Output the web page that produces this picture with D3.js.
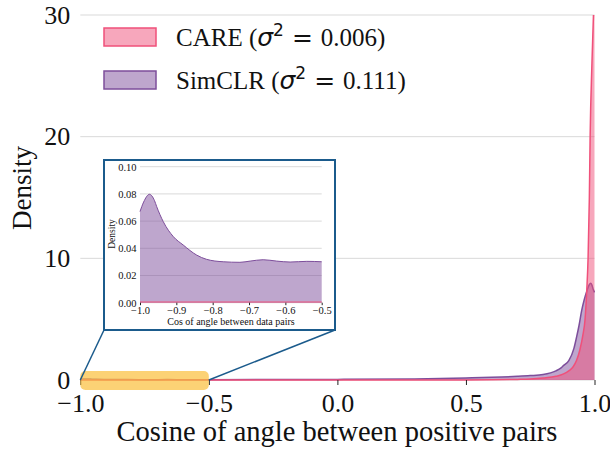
<!DOCTYPE html>
<html>
<head>
<meta charset="utf-8">
<script src="https://cdn.jsdelivr.net/npm/d3@7"></script>
<style>
  body { margin: 0; background: #fff; }
  text { font-family: "Liberation Serif", "Times New Roman", serif; fill: #111; }
</style>
</head>
<body>
<div id="chart"></div>
<script>
// cosine values and KDE densities
var simX = [-1.0, -0.99, -0.974, -0.96, -0.954, -0.936, -0.908, -0.881, -0.844, -0.817, -0.771, -0.725, -0.697, -0.661, -0.624, -0.587, -0.541, -0.5,
  0.0, 0.3, 0.5, 0.6, 0.7, 0.75, 0.8, 0.85, 0.87, 0.88, 0.9, 0.92, 0.93, 0.94, 0.95, 0.96, 0.97, 0.98, 0.985, 0.99, 0.995, 1.0];
var simY = [0.067, 0.074, 0.0797, 0.075, 0.0706, 0.0596, 0.0485, 0.0424, 0.035, 0.0319, 0.0301, 0.0297, 0.0306, 0.0316, 0.0306, 0.0299, 0.0304, 0.0301,
  0.05, 0.09, 0.17, 0.22, 0.3, 0.36, 0.45, 0.75, 1.0, 1.2, 1.6, 2.6, 3.5, 4.5, 5.7, 6.6, 7.3, 7.85, 7.95, 7.8, 7.45, 7.2];

var careX = [-1.0, -0.5, 0.0, 0.5, 0.6, 0.7, 0.75, 0.8, 0.85, 0.88, 0.9, 0.917, 0.93, 0.943, 0.955, 0.963, 0.97, 0.975, 0.98, 0.983, 0.99, 0.996, 1.0];
var careY = [0.0005, 0.0005, 0.002, 0.01, 0.02, 0.05, 0.08, 0.16, 0.3, 0.5, 0.75, 1.09, 1.6, 2.47, 3.7, 4.93, 7.4, 10, 15, 20, 26, 30, 32];

var xTicks = [-1.0, -0.5, 0.0, 0.5, 1.0];
var yTicks = [0, 10, 20, 30];
var insetXTicks = [-1.0, -0.9, -0.8, -0.7, -0.6, -0.5];
var insetYTicks = [0, 0.02, 0.04, 0.06, 0.08, 0.1];

var careColor = "#f0507a", simColor = "#7d4e9b";

var sim = simX.map((x, i) => [x, simY[i]]);
var care = careX.map((x, i) => [x, careY[i]]);

var width = 610, height = 451;
var svg = d3.select("#chart").append("svg")
  .attr("width", width).attr("height", height);

var x = d3.scaleLinear().domain([-1, 1]).range([80.3, 594.5]);
var y = d3.scaleLinear().domain([0, 30]).range([380, 15]);

svg.append("defs").append("clipPath").attr("id", "clip")
  .append("rect").attr("x", 78).attr("y", 15).attr("width", 520).attr("height", 375);

// grid
svg.append("g").selectAll("line").data(yTicks).enter().append("line")
  .attr("x1", x(-1)).attr("x2", x(1))
  .attr("y1", d => y(d)).attr("y2", d => y(d))
  .attr("stroke", "#d9d9d9").attr("stroke-width", 1);

var area = d3.area().curve(d3.curveMonotoneX).x(d => x(d[0])).y0(y(0)).y1(d => y(d[1]));
var line = d3.line().curve(d3.curveMonotoneX).x(d => x(d[0])).y(d => y(d[1]));

var plot = svg.append("g").attr("clip-path", "url(#clip)");
plot.append("path").datum(sim).attr("d", area).attr("fill", simColor).attr("fill-opacity", 0.5);
plot.append("path").datum(sim).attr("d", line).attr("fill", "none").attr("stroke", simColor).attr("stroke-width", 1.5);
plot.append("path").datum(care).attr("d", area).attr("fill", careColor).attr("fill-opacity", 0.5);
plot.append("path").datum(care).attr("d", line).attr("fill", "none").attr("stroke", careColor).attr("stroke-width", 1.5);

// axes
var xAxis = d3.axisBottom(x).tickValues(xTicks).tickFormat(d3.format(".1f")).tickSize(5).tickPadding(9);
var gx = svg.append("g").attr("transform", "translate(0,380)").call(xAxis);
gx.select(".domain").remove();
gx.selectAll("line").attr("stroke", "#222");
gx.selectAll("text").style("font-size", "26px").attr("fill", "#111");

var yAxis = d3.axisLeft(y).tickValues(yTicks).tickSize(0).tickPadding(10);
var gy = svg.append("g").attr("transform", `translate(${x(-1)},0)`).call(yAxis);
gy.select(".domain").remove();
gy.selectAll("text").style("font-size", "26px").attr("fill", "#111");

svg.append("text").attr("x", 337).attr("y", 441).attr("text-anchor", "middle")
  .style("font-size", "28.5px").text("Cosine of angle between positive pairs");
svg.append("text").attr("transform", "translate(31,188) rotate(-90)").attr("text-anchor", "middle")
  .style("font-size", "27px").text("Density");

// zoomed region highlight
svg.append("rect").attr("x", x(-1)).attr("y", 371).attr("width", x(-0.5) - x(-1)).attr("height", 19)
  .attr("rx", 5).attr("fill", "#fbbf3a").attr("fill-opacity", 0.7);

// legend
var legend = [["CARE", "0.006", careColor], ["SimCLR", "0.111", simColor]];
legend.forEach((l, i) => {
  var ly = 28 + i * 43;
  svg.append("rect").attr("x", 104).attr("y", ly).attr("width", 52).attr("height", 18)
    .attr("fill", l[2]).attr("fill-opacity", 0.5).attr("stroke", l[2]).attr("stroke-width", 1.5);
  var t = svg.append("text").attr("x", 176).attr("y", ly + 18).style("font-size", "25px");
  t.append("tspan").text(l[0] + " (");
  t.append("tspan").style("font-family", "DejaVu Sans").style("font-style", "italic").text("σ");
  t.append("tspan").attr("dy", -10).style("font-size", "17px").style("font-family", "DejaVu Sans").text("2");
  t.append("tspan").attr("dy", 10).style("font-family", "DejaVu Sans").text(" = ");
  t.append("tspan").text(l[1] + ")");
});

// inset
var frame = { x0: 104, y0: 160, x1: 335, y1: 330 };
var boxColor = "#1b5b8c";
svg.append("line").attr("x1", frame.x0).attr("y1", frame.y1).attr("x2", x(-1)).attr("y2", y(0))
  .attr("stroke", boxColor).attr("stroke-width", 1.5);
svg.append("line").attr("x1", frame.x1).attr("y1", frame.y1).attr("x2", x(-0.5)).attr("y2", y(0))
  .attr("stroke", boxColor).attr("stroke-width", 1.5);
svg.append("rect").attr("x", frame.x0).attr("y", frame.y0)
  .attr("width", frame.x1 - frame.x0).attr("height", frame.y1 - frame.y0)
  .attr("fill", "#fff").attr("stroke", boxColor).attr("stroke-width", 2);

var ix = d3.scaleLinear().domain([-1, -0.5]).range([140, 321.7]);
var iy = d3.scaleLinear().domain([0, 0.1]).range([302.7, 166.7]);

var inset = svg.append("g");
inset.append("g").selectAll("line").data(insetYTicks).enter().append("line")
  .attr("x1", ix(-1)).attr("x2", ix(-0.5))
  .attr("y1", d => iy(d)).attr("y2", d => iy(d))
  .attr("stroke", "#cfcfcf").attr("stroke-width", 0.8);

var iArea = d3.area().curve(d3.curveMonotoneX).x(d => ix(d[0])).y0(iy(0)).y1(d => iy(d[1]));
var iLine = d3.line().curve(d3.curveMonotoneX).x(d => ix(d[0])).y(d => iy(d[1]));
var simIn = sim.filter(d => d[0] <= -0.5);
var careIn = care.filter(d => d[0] <= -0.5);
inset.append("path").datum(simIn).attr("d", iArea).attr("fill", simColor).attr("fill-opacity", 0.5);
inset.append("path").datum(simIn).attr("d", iLine).attr("fill", "none").attr("stroke", simColor).attr("stroke-width", 1);
inset.append("path").datum(careIn).attr("d", iLine).attr("fill", "none").attr("stroke", careColor).attr("stroke-width", 1.2);

var igx = inset.append("g").attr("transform", `translate(0,${iy(0)})`)
  .call(d3.axisBottom(ix).tickValues(insetXTicks).tickFormat(d3.format(".1f")).tickSize(2.5).tickPadding(1.5));
igx.select(".domain").remove();
igx.selectAll("line").attr("stroke", "#222");
igx.selectAll("text").style("font-size", "10.5px").attr("fill", "#111");

var igy = inset.append("g").attr("transform", `translate(${ix(-1)},0)`)
  .call(d3.axisLeft(iy).tickValues(insetYTicks).tickFormat(d3.format(".2f")).tickSize(0).tickPadding(3.5));
igy.select(".domain").remove();
igy.selectAll("text").style("font-size", "10.5px").attr("fill", "#111");

inset.append("text").attr("x", 231).attr("y", 325).attr("text-anchor", "middle")
  .style("font-size", "10px").text("Cos of angle between data pairs");
inset.append("text").attr("transform", "translate(115,234) rotate(-90)").attr("text-anchor", "middle")
  .style("font-size", "9.5px").text("Density");
</script>
</body>
</html>
